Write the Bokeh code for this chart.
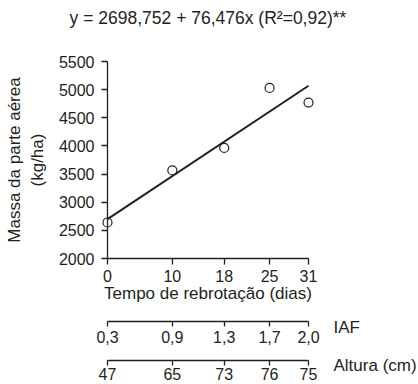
from bokeh.plotting import figure
from bokeh.models import LinearAxis, FixedTicker, Range1d, Label
from bokeh.embed import file_html
from bokeh.resources import INLINE

# ---- data ----
dias = [0, 10, 18, 25, 31]
massa = [2640, 3565, 3965, 5030, 4770]
iaf_labels = ["0,3", "0,9", "1,3", "1,7", "2,0"]
altura_labels = ["47", "65", "73", "76", "75"]
y_ticks = [2000, 2500, 3000, 3500, 4000, 4500, 5000, 5500]
intercept = 2698.752
slope = 76.476
title_text = "y = 2698,752 + 76,476x (R²=0,92)**"
x_label = "Tempo de rebrotação (dias)"
y_label = "Massa da parte aérea\n(kg/ha)"
iaf_name = "IAF"
altura_name = "Altura (cm)"

FONT = "Liberation Sans"
TXT = "#231f20"
LINE = "#231f20"

# ---- layout (pixels) ----
X0, X1 = 0, 31          # x domain of the plotted region
Y0, Y1 = 2000, 5500     # y domain of the plotted region
W, H = 418, 384
LEFT, RIGHT, TOP, BOTTOM = 107, 308, 61, 258   # plotted region on canvas
KX = (X1 - X0) / (RIGHT - LEFT)   # data per pixel
KY = (Y1 - Y0) / (BOTTOM - TOP)


def xpx(px):
    return X0 + (px - LEFT) * KX


def ypx(py):
    return Y0 + (BOTTOM - py) * KY


p = figure(width=W, height=H, output_backend="svg", toolbar_location=None,
           x_range=Range1d(xpx(0), xpx(W)), y_range=Range1d(ypx(H), ypx(0)),
           x_axis_type=None, y_axis_type=None,
           min_border=0, min_border_left=0, min_border_right=0,
           min_border_top=0, min_border_bottom=0)
p.title.visible = False
p.outline_line_color = None
p.grid.visible = False
p.background_fill_color = "white"
p.border_fill_color = "white"


def style_axis(ax, tick_out=6, standoff=4):
    ax.axis_line_color = LINE
    ax.axis_line_width = 1.3
    ax.major_tick_line_color = LINE
    ax.major_tick_line_width = 1.3
    ax.major_tick_in = 0
    ax.major_tick_out = tick_out
    ax.minor_tick_line_color = None
    ax.major_label_standoff = standoff
    ax.major_label_text_font = FONT
    ax.major_label_text_font_size = "16px"
    ax.major_label_text_color = TXT
    ax.axis_label_text_font = FONT
    ax.axis_label_text_font_size = "17px"
    ax.axis_label_text_font_style = "normal"
    ax.axis_label_text_color = TXT


# y axis
ya = LinearAxis(ticker=FixedTicker(ticks=y_ticks), fixed_location=X0,
                bounds=(Y0, Y1), axis_label=y_label)
style_axis(ya, tick_out=6, standoff=7)
ya.axis_label_standoff = 9
p.add_layout(ya, "left")

# main x axis
xa = LinearAxis(ticker=FixedTicker(ticks=dias), fixed_location=Y0,
                bounds=(X0, X1), axis_label=x_label)
style_axis(xa, tick_out=6, standoff=5)
xa.axis_label_standoff = -1
p.add_layout(xa, "below")

# IAF axis
iaf_ax = LinearAxis(ticker=FixedTicker(ticks=dias), fixed_location=ypx(321),
                    bounds=(X0, X1),
                    major_label_overrides={d: s for d, s in zip(dias, iaf_labels)})
style_axis(iaf_ax, tick_out=5, standoff=4)
p.add_layout(iaf_ax, "below")

# Altura axis
alt_ax = LinearAxis(ticker=FixedTicker(ticks=dias), fixed_location=ypx(359.5),
                    bounds=(X0, X1),
                    major_label_overrides={d: s for d, s in zip(dias, altura_labels)})
style_axis(alt_ax, tick_out=5, standoff=3)
p.add_layout(alt_ax, "below")

# regression line
xs = [dias[0], dias[-1]]
ys = [intercept + slope * x for x in xs]
p.line(xs, ys, line_color=LINE, line_width=2)

# points
p.scatter(dias, massa, marker="circle", size=9, fill_color=None,
          line_color=LINE, line_width=1.2)

# title
p.add_layout(Label(x=(X0 + X1) / 2, y=ypx(17), text=title_text,
                   text_font=FONT, text_font_size="17.5px", text_color=TXT,
                   text_align="center", text_baseline="middle"))

# names of the extra axes
for txt, py in [(iaf_name, 326.5), (altura_name, 365)]:
    p.add_layout(Label(x=xpx(333), y=ypx(py),
                       text=txt, text_font=FONT, text_font_size="17px",
                       text_color=TXT, text_baseline="middle"))

open("out.html", "w").write(file_html(p, INLINE))
